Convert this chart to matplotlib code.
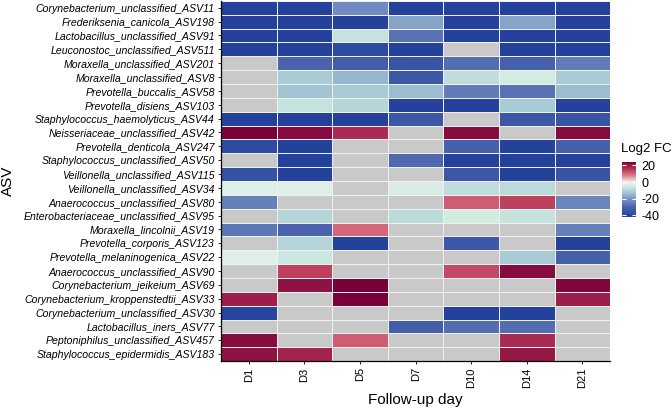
import numpy as np
import matplotlib
matplotlib.use("Agg")
import matplotlib.pyplot as plt
from matplotlib.colors import LinearSegmentedColormap, Normalize

# ASV names (top to bottom) and follow-up days
asv = ["Corynebacterium_unclassified_ASV11", "Frederiksenia_canicola_ASV198",
       "Lactobacillus_unclassified_ASV91", "Leuconostoc_unclassified_ASV511",
       "Moraxella_unclassified_ASV201", "Moraxella_unclassified_ASV8",
       "Prevotella_buccalis_ASV58", "Prevotella_disiens_ASV103",
       "Staphylococcus_haemolyticus_ASV44", "Neisseriaceae_unclassified_ASV42",
       "Prevotella_denticola_ASV247", "Staphylococcus_unclassified_ASV50",
       "Veillonella_unclassified_ASV115", "Veillonella_unclassified_ASV34",
       "Anaerococcus_unclassified_ASV80", "Enterobacteriaceae_unclassified_ASV95",
       "Moraxella_lincolnii_ASV19", "Prevotella_corporis_ASV123",
       "Prevotella_melaninogenica_ASV22", "Anaerococcus_unclassified_ASV90",
       "Corynebacterium_jeikeium_ASV69", "Corynebacterium_kroppenstedtii_ASV33",
       "Corynebacterium_unclassified_ASV30", "Lactobacillus_iners_ASV77",
       "Peptoniphilus_unclassified_ASV457", "Staphylococcus_epidermidis_ASV183"]
days = ["D1", "D3", "D5", "D7", "D10", "D14", "D21"]

na = np.nan
# log2 fold change per ASV (rows) and day (columns), nan = not available
log2fc = [
    [-41, -41, -22, -41, -41, -41, -41],
    [-41, -41, -41, -18, -41, -18, -41],
    [-41, -41, -7, -27, -41, -41, -41],
    [-41, -41, -38, -41, na, -41, -41],
    [na, -30, -32, -35, -28, -31, -25],
    [na, -12, -15, -34, -8, -5, -12],
    [na, -13, -12, -14, -25, -27, -14],
    [na, -7, -10, -41, -41, -12, -41],
    [-41, -41, -41, -34, na, -34, -35],
    [24, 22, 17, na, 22, na, 22],
    [-38, -41, na, na, -31, -41, -31],
    [na, -41, na, -29, -41, -41, -41],
    [-36, -41, na, na, -34, -41, -35],
    [-3, -3, na, -4, -8, -9, na],
    [-24, na, na, na, 11, 14, -23],
    [na, -10, na, -9, -5, -7, na],
    [-26, -30, 10, na, na, na, -24],
    [na, -10, -41, na, -34, na, -41],
    [-3, -6, na, na, na, -12, -31],
    [na, 14, na, na, 13, 22, na],
    [na, 21, 24, na, na, na, 23],
    [19, na, 24, na, na, na, 19],
    [-40, na, na, na, -41, -41, na],
    [na, na, na, -32, -28, -28, na],
    [22, na, 11, na, na, 17, na],
    [21, 18, na, na, na, 20, na],
]

vmin, vmax = -42, 24
stops = [(-42, "#21409a"), (-30, "#4a63ac"), (-20, "#7a96c4"), (-12, "#a8cbd5"),
         (-5, "#d2ece1"), (0, "#f2f0ee"), (8, "#df7a88"), (15, "#b8385a"), (24, "#7a0038")]
cmap = LinearSegmentedColormap.from_list(
    "fc", [((v - vmin) / (vmax - vmin), c) for v, c in stops])
cmap.set_bad("#c9c9c9")

plt.rcParams["font.family"] = ["Liberation Sans", "DejaVu Sans"]
plt.rcParams["axes.unicode_minus"] = False

fig = plt.figure(figsize=(6.72, 4.08), dpi=100)
ax = fig.add_axes([0.329, 0.115, 0.579, 0.883])

data = np.ma.masked_invalid(np.array(log2fc, dtype=float))
mesh = ax.pcolormesh(data, cmap=cmap, norm=Normalize(vmin, vmax),
                     edgecolor="#f0f0f0", linewidth=0.6)
ax.set_xlim(0, len(days))
ax.set_ylim(len(asv), 0)

ax.set_xticks(np.arange(len(days)) + 0.5)
ax.set_xticklabels(days, rotation=90, fontsize=8)
ax.set_yticks(np.arange(len(asv)) + 0.5)
ax.set_yticklabels(asv, fontsize=7.6, style="italic")
ax.tick_params(length=2.5, width=0.6, pad=2)
ax.spines["top"].set_visible(False)
ax.spines["right"].set_visible(False)
ax.spines["left"].set_linewidth(0.9)
ax.spines["bottom"].set_linewidth(0.9)

ax.set_xlabel("Follow-up day", fontsize=11)
ax.set_ylabel("ASV", fontsize=11)
ax.yaxis.set_label_coords(-0.53, 0.5)

# colour bar legend
cax = fig.add_axes([0.926, 0.468, 0.020, 0.135])
cb = fig.colorbar(mesh, cax=cax, ticks=[20, 0, -20, -40])
cb.outline.set_visible(False)
cb.ax.tick_params(labelsize=9, length=3, width=0.8, color="white",
                  direction="in", left=True, pad=4)
fig.text(0.924, 0.62, "Log2 FC", fontsize=9.5, ha="left", va="bottom")

fig.savefig("out.png", dpi=100)
